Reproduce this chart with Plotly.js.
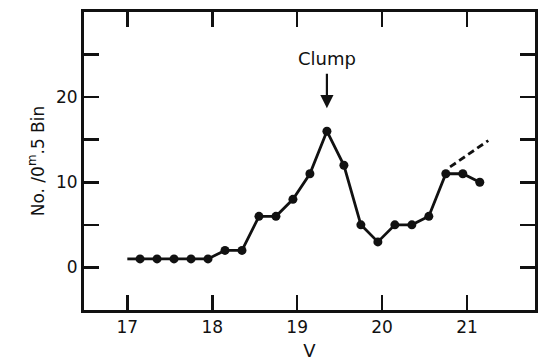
<!DOCTYPE html>
<html>
<head>
<meta charset="utf-8">
<script src="https://cdn.plot.ly/plotly-3.0.1.min.js"></script>
<style>html,body{margin:0;padding:0;background:#fff;}#chart{width:560px;height:364px;}</style>
</head>
<body>
<div id="chart"></div>
<script>
// Data
var lineStartX = [17.0];
var lineStartY = [1];
var binCenters = [17.15, 17.35, 17.55, 17.75, 17.95, 18.15, 18.35, 18.55, 18.75, 18.95, 19.15, 19.35, 19.55, 19.75, 19.95, 20.15, 20.35, 20.55, 20.75, 20.95, 21.15];
var counts = [1, 1, 1, 1, 1, 2, 2, 6, 6, 8, 11, 16, 12, 5, 3, 5, 5, 6, 11, 11, 10];
var dashX = [20.8, 21.25];
var dashY = [11.8, 14.9];
var xTickVals = [17, 18, 19, 20, 21];
var xTickText = ['17', '18', '19', '20', '21'];
var yTickVals = [0, 5, 10, 15, 20, 25];
var yTickText = ['0', ' ', '10', ' ', '20', ' '];
var clumpX = 19.35;
var clumpTipY = 18.7;
var clumpLabelY = 24.5;

var font = 'DejaVu Sans, Liberation Sans, sans-serif';

var traces = [
  {
    x: lineStartX.concat([binCenters[0]]),
    y: lineStartY.concat([counts[0]]),
    mode: 'lines',
    line: {color: '#111', width: 2.8},
    hoverinfo: 'skip',
    showlegend: false
  },
  {
    x: binCenters,
    y: counts,
    mode: 'lines+markers',
    line: {color: '#111', width: 2.8},
    marker: {color: '#111', size: 9},
    showlegend: false
  },
  {
    x: dashX,
    y: dashY,
    mode: 'lines',
    line: {color: '#111', width: 2.8, dash: '7px,4px'},
    showlegend: false
  }
];

var layout = {
  width: 560,
  height: 364,
  margin: {l: 84, r: 25, t: 12, b: 54},
  paper_bgcolor: '#fff',
  plot_bgcolor: '#fff',
  font: {family: font, color: '#111', size: 16},
  showlegend: false,
  xaxis: {
    range: [16.49, 21.8],
    tickvals: xTickVals,
    ticktext: xTickText,
    ticks: 'inside',
    ticklen: 15,
    tickwidth: 2.5,
    tickcolor: '#111',
    showline: true,
    linecolor: '#111',
    linewidth: 3,
    mirror: 'ticks',
    showgrid: false,
    zeroline: false,
    tickfont: {size: 17, family: font},
    title: {text: 'V', font: {size: 18, family: font}, standoff: 8}
  },
  yaxis: {
    range: [-5, 30],
    tickvals: yTickVals,
    ticktext: yTickText,
    ticks: 'inside',
    ticklen: 15,
    tickwidth: 2.5,
    tickcolor: '#111',
    showline: true,
    linecolor: '#111',
    linewidth: 3,
    mirror: 'ticks',
    showgrid: false,
    zeroline: false,
    tickfont: {size: 17, family: font},
    title: {text: 'No. /0<sup>m</sup>.5 Bin', font: {size: 17, family: font}, standoff: 8}
  },
  annotations: [
    {
      x: clumpX, y: clumpTipY, xref: 'x', yref: 'y',
      ax: clumpX, ay: clumpLabelY, axref: 'x', ayref: 'y',
      text: 'Clump', showarrow: true, borderpad: 4,
      font: {size: 18, family: font, color: '#111'},
      arrowhead: 2, arrowsize: 1.2, arrowwidth: 2.2, arrowcolor: '#111'
    }
  ]
};

Plotly.newPlot('chart', traces, layout, {displayModeBar: false, staticPlot: true});
</script>
</body>
</html>
